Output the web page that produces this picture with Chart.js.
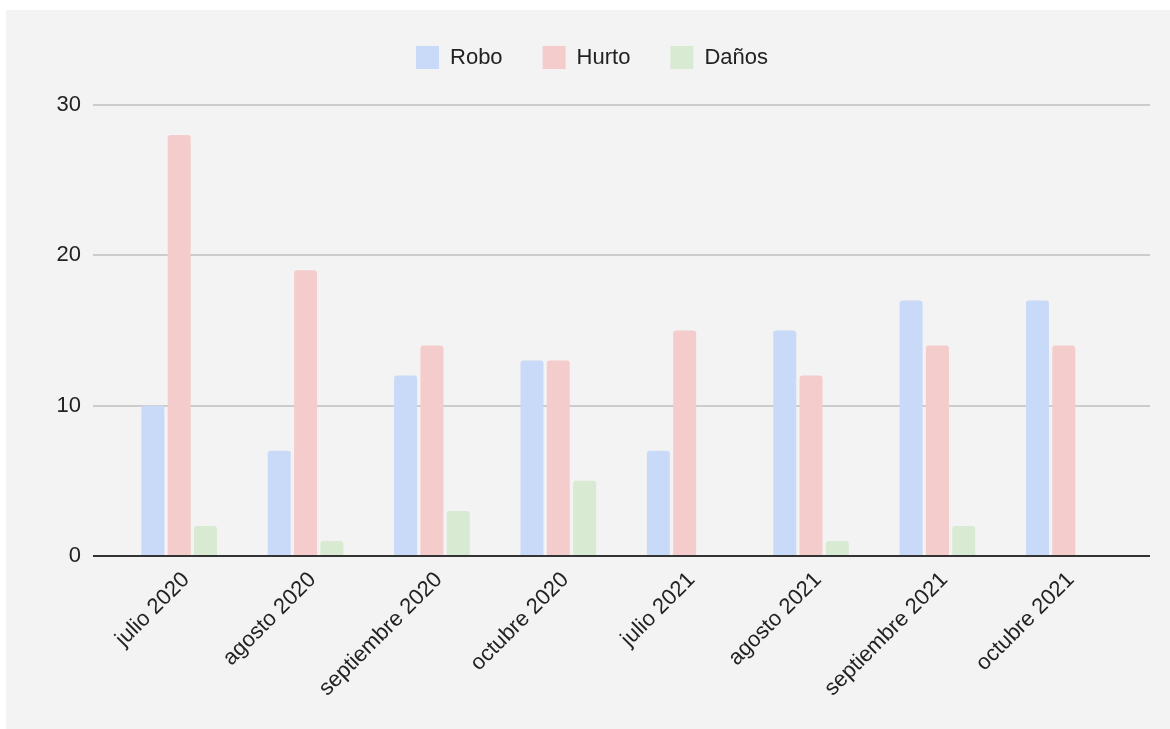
<!DOCTYPE html>
<html>
<head>
<meta charset="utf-8">
<script src="https://cdn.jsdelivr.net/npm/chart.js@4/dist/chart.umd.min.js"></script>
<style>
  html, body { margin: 0; padding: 0; background: #ffffff; }
  #wrap { position: absolute; left: 6px; top: 10px; width: 1164px; height: 719px; background: #f3f3f3; }
  canvas { display: block; }
</style>
</head>
<body>
<div id="wrap"><canvas id="c" width="1164" height="719"></canvas></div>
<script>
const categories = ["julio 2020", "agosto 2020", "septiembre 2020", "octubre 2020", "julio 2021", "agosto 2021", "septiembre 2021", "octubre 2021"];
const robo  = [10, 7, 12, 13, 7, 15, 17, 17];
const hurto = [28, 19, 14, 13, 15, 12, 14, 14];
const danos = [2, 1, 3, 5, 0, 1, 2, 0];
const seriesNames = ["Robo", "Hurto", "Daños"];
const yTicks = [0, 10, 20, 30];

const FONT = "'Liberation Sans', Arial, sans-serif";
const TXT = '#222222';
const gridColor = (ctx) => (ctx.tick && ctx.tick.value === 0) ? '#333333' : '#cccccc';

const barCommon = {
  borderRadius: { topLeft: 3, topRight: 3, bottomLeft: 0, bottomRight: 0 },
  borderSkipped: 'bottom',
  categoryPercentage: 0.625,
  barPercentage: 0.873
};

const legendSpacing = {
  id: 'legendSpacing',
  beforeInit(chart) {
    const orig = chart.legend.fit;
    chart.legend.fit = function () {
      orig.call(this);
      this.height += 26;
    };
  }
};

new Chart(document.getElementById('c'), {
  type: 'bar',
  data: {
    labels: categories,
    datasets: [
      Object.assign({ label: seriesNames[0], data: robo,  backgroundColor: '#c9daf8' }, barCommon),
      Object.assign({ label: seriesNames[1], data: hurto, backgroundColor: '#f4cccc' }, barCommon),
      Object.assign({ label: seriesNames[2], data: danos, backgroundColor: '#d9ead3' }, barCommon)
    ]
  },
  plugins: [legendSpacing],
  options: {
    responsive: false,
    animation: false,
    layout: { padding: { left: 8, right: 0, top: -4, bottom: 0 } },
    plugins: {
      tooltip: { enabled: false },
      legend: {
        position: 'top',
        labels: {
          boxWidth: 23, boxHeight: 23, padding: 40,
          color: TXT, font: { family: FONT, size: 22 }
        }
      }
    },
    scales: {
      x: {
        offset: true,
        grid: { display: false },
        border: { display: false },
        ticks: {
          minRotation: 45, maxRotation: 45, autoSkip: false, padding: 3, labelOffset: 7,
          color: TXT, font: { family: FONT, size: 22 }
        },
        afterFit: (s) => { s.height = 173; }
      },
      y: {
        min: 0, max: 30,
        afterBuildTicks: (s) => { s.ticks = yTicks.map(v => ({ value: v })); },
        grid: { color: gridColor, lineWidth: 2, drawTicks: true, tickLength: 23, tickColor: gridColor },
        border: { display: false },
        ticks: { padding: 12, color: TXT, font: { family: FONT, size: 22 } },
        afterFit: (s) => { s.width = 102; }
      },
      y2: {
        position: 'right',
        min: 0, max: 30,
        afterBuildTicks: (s) => { s.ticks = yTicks.map(v => ({ value: v })); },
        grid: { color: gridColor, lineWidth: 2, drawTicks: true, tickLength: 23, tickColor: gridColor, drawOnChartArea: false },
        border: { display: false },
        ticks: { display: false },
        afterFit: (s) => { s.width = 43; }
      }
    }
  }
});
</script>
</body>
</html>
